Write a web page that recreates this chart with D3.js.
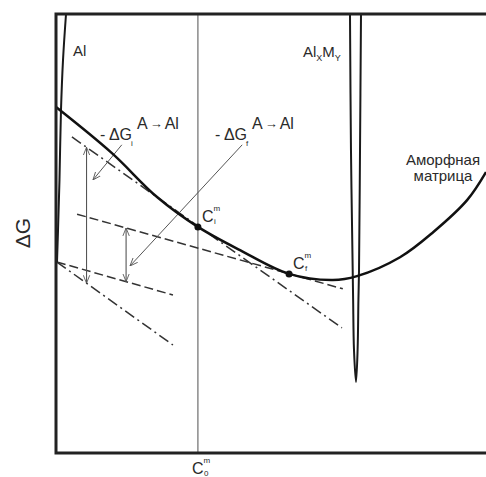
<!DOCTYPE html>
<html>
<head>
<meta charset="utf-8">
<script src="https://cdn.jsdelivr.net/npm/d3@7/dist/d3.min.js"></script>
<style>
  body { margin: 0; background: #fff; }
  svg { display: block; }
  text { font-family: "Liberation Sans", Arial, sans-serif; fill: #2a2a2a; }
</style>
</head>
<body>
<svg id="chart" width="486" height="477"></svg>
<script>
// Composition axis (0–100, arbitrary) and Gibbs energy axis (0–100, arbitrary)

// Amorphous matrix free-energy curve
const amorphousX = [0, 13.0, 23.5, 33.0, 42.8, 54.2, 64.4, 70.0, 80.0, 87.7, 95.6, 100];
const amorphousG = [78.8, 68.3, 58.3, 51.5, 46.2, 40.8, 39.4, 40.3, 44.6, 50.3, 57.6, 64.0];

// Al (fcc) free-energy curve, very steep near pure Al
const alX = [0.23, 0.47, 0.81, 1.16, 1.63, 2.33];
const alG = [43.5, 50.8, 62.2, 78.1, 89.5, 100];

// AlxMy intermetallic, narrow curve
const compoundX = [68.37, 68.6, 69.0, 69.1, 69.3, 69.77, 70.14, 70.33, 70.47, 70.7, 70.93];
const compoundG = [100, 69.0, 41.7, 34.9, 23.5, 16.2, 23.5, 34.9, 41.7, 69.0, 100];

// Matrix compositions: initial (i) and final (f), and nominal alloy C0
const contactX = [33.0, 54.2];
const contactG = [51.5, 40.8];
const contactTags = ["i", "f"];
const nominalX = 33.0;

// Common tangents: [x0, x1], [g0, g1]
const tangentIX = [3.7, 66.5],  tangentIG = [72.0, 28.5];   // tangent at Ci (dash-dot)
const tangentFX = [4.9, 66.7],  tangentFG = [54.4, 37.4];   // tangent at Cf (dashed)
const alDashDotX = [0.2, 27.2], alDashDotG = [43.5, 24.6];  // through Al, parallel to Ci tangent
const alDashX = [0.2, 27.2],    alDashG = [43.5, 36.0];     // through Al, parallel to Cf tangent

// Driving-force arrows at these compositions
const gapArrowX = [7.1, 16.3];

// Leader arrows: start (label) → tip
const leaderFromX = [15.3, 43.3], leaderFromG = [70.2, 70.2];
const leaderToX = [8.6, 17.2],    leaderToG = [62.2, 42.6];

const svg = d3.select("#chart");
const plotLeft = 56, plotRight = 486, plotTop = 14, plotBottom = 453;

const x = d3.scaleLinear().domain([0, 100]).range([plotLeft, plotRight]);
const y = d3.scaleLinear().domain([0, 100]).range([plotBottom, plotTop]);

const zip = (xs, gs) => xs.map((v, i) => [v, gs[i]]);
const lineGen = d3.line().x(d => x(d[0])).y(d => y(d[1]));
const at = (xs, gs, v) => gs[0] + (v - xs[0]) * (gs[1] - gs[0]) / (xs[1] - xs[0]);

// Open arrowhead
const defs = svg.append("defs");
defs.append("marker")
  .attr("id", "head")
  .attr("viewBox", "0 -5 10 10")
  .attr("refX", 10).attr("refY", 0)
  .attr("markerUnits", "userSpaceOnUse")
  .attr("markerWidth", 8).attr("markerHeight", 8)
  .attr("orient", "auto-start-reverse")
  .append("path")
  .attr("d", "M0,-4L10,0L0,4")
  .attr("fill", "none")
  .attr("stroke", "#555")
  .attr("stroke-width", 1.1);

// Nominal composition line
svg.append("line")
  .attr("x1", x(nominalX)).attr("x2", x(nominalX))
  .attr("y1", y(100)).attr("y2", y(0))
  .attr("stroke", "#777").attr("stroke-width", 1.3);

// Tangent lines
const dashDot = "11,4,2,4", dashed = "9,4";
[[tangentIX, tangentIG, dashDot], [tangentFX, tangentFG, dashed],
 [alDashDotX, alDashDotG, dashDot], [alDashX, alDashG, dashed]].forEach(([xs, gs, dash]) => {
  svg.append("path")
    .attr("d", lineGen(zip(xs, gs)))
    .attr("fill", "none")
    .attr("stroke", "#333")
    .attr("stroke-width", 1.5)
    .attr("stroke-dasharray", dash);
});

// Vertical double arrows between tangent pairs
const gapTop = [at(tangentIX, tangentIG, gapArrowX[0]), at(tangentFX, tangentFG, gapArrowX[1])];
const gapBottom = [at(alDashDotX, alDashDotG, gapArrowX[0]), at(alDashX, alDashG, gapArrowX[1])];
gapArrowX.forEach((gx, i) => {
  svg.append("line")
    .attr("x1", x(gx)).attr("x2", x(gx))
    .attr("y1", y(gapTop[i])).attr("y2", y(gapBottom[i]))
    .attr("stroke", "#555").attr("stroke-width", 1.1)
    .attr("marker-start", "url(#head)")
    .attr("marker-end", "url(#head)");
});

// Leader arrows
leaderFromX.forEach((lx, i) => {
  svg.append("line")
    .attr("x1", x(lx)).attr("y1", y(leaderFromG[i]))
    .attr("x2", x(leaderToX[i])).attr("y2", y(leaderToG[i]))
    .attr("stroke", "#555").attr("stroke-width", 1)
    .attr("marker-end", "url(#head)");
});

// Free-energy curves
svg.append("path")
  .attr("d", lineGen.curve(d3.curveCatmullRom)(zip(alX, alG)))
  .attr("fill", "none").attr("stroke", "#1a1a1a").attr("stroke-width", 2);

svg.append("path")
  .attr("d", lineGen.curve(d3.curveCatmullRom)(zip(compoundX, compoundG)))
  .attr("fill", "none").attr("stroke", "#1a1a1a").attr("stroke-width", 2);

svg.append("path")
  .attr("d", lineGen.curve(d3.curveCatmullRom)(zip(amorphousX, amorphousG)))
  .attr("fill", "none").attr("stroke", "#111").attr("stroke-width", 2.5);

// Contact points
svg.selectAll("circle.pt")
  .data(contactX)
  .join("circle")
  .attr("cx", d => x(d))
  .attr("cy", (d, i) => y(contactG[i]))
  .attr("r", 3.5)
  .attr("fill", "#111");

// Frame
svg.append("path")
  .attr("d", `M${plotRight + 2},${plotTop}H${plotLeft}V${plotBottom}H${plotRight + 2}`)
  .attr("fill", "none").attr("stroke", "#222").attr("stroke-width", 3);

// Labels
function cLabel(px, py, sub) {
  svg.append("text").attr("x", px).attr("y", py).style("font-size", "16px").text("C");
  svg.append("text").attr("x", px + 11.5).attr("y", py - 11).style("font-size", "8px").text("m");
  svg.append("text").attr("x", px + 12).attr("y", py + 2).style("font-size", "8px").text(sub);
}
contactX.forEach((cx, i) => {
  cLabel(x(cx) + 4, y(contactG[i]) - 5, contactTags[i]);
});
cLabel(x(nominalX) - 6, 474, "0");

svg.append("text").attr("x", 73).attr("y", 56).style("font-size", "15px").text("Al");

const alxmy = svg.append("text").attr("x", 303).attr("y", 57).style("font-size", "15px");
alxmy.append("tspan").text("Al");
alxmy.append("tspan").attr("dy", 4).style("font-size", "9px").text("X");
alxmy.append("tspan").attr("dy", -4).text("M");
alxmy.append("tspan").attr("dy", 4).style("font-size", "9px").text("Y");

svg.append("text").attr("x", 443).attr("y", 165).attr("text-anchor", "middle")
  .style("font-size", "15px").text("Аморфная");
svg.append("text").attr("x", 443).attr("y", 181).attr("text-anchor", "middle")
  .style("font-size", "15px").text("матрица");

// Driving force label: - ΔG_sub ^(A → Al)
function dgLabel(px, py, sub) {
  svg.append("text").attr("x", px).attr("y", py).style("font-size", "16px").text("- ΔG");
  svg.append("text").attr("x", px + 31).attr("y", py + 6).style("font-size", "8px").text(sub);
  const sup = svg.append("text").attr("x", px + 37).attr("y", py - 11).style("font-size", "16px");
  sup.append("tspan").text("A");
  sup.append("tspan").attr("dx", 2).attr("dy", -1).style("font-size", "13px").text("→");
  sup.append("tspan").attr("dx", 2).attr("dy", 1).text("Al");
}
dgLabel(100, 140, "i");
dgLabel(215, 140, "f");

svg.append("text")
  .attr("transform", "translate(30,233) rotate(-90)")
  .attr("text-anchor", "middle")
  .style("font-size", "21px")
  .text("ΔG");
</script>
</body>
</html>
